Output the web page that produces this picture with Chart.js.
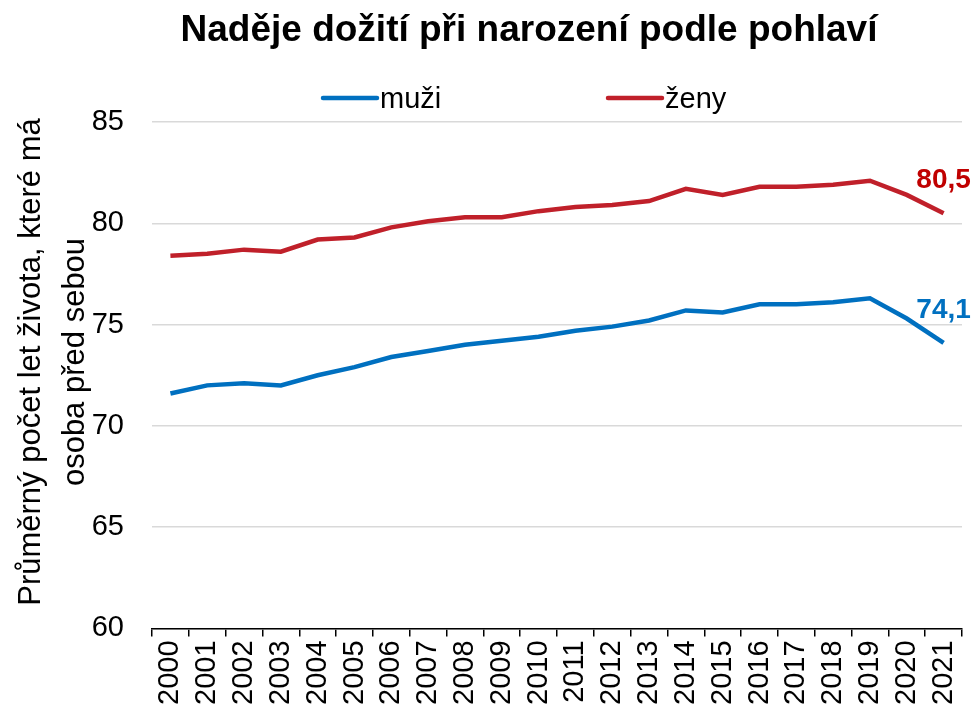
<!DOCTYPE html>
<html>
<head>
<meta charset="utf-8">
<script src="https://cdn.jsdelivr.net/npm/chart.js@4/dist/chart.umd.min.js"></script>
<style>
  html, body { margin: 0; padding: 0; background: #fff; }
  #wrap { width: 973px; height: 715px; }
</style>
</head>
<body>
<div id="wrap"><canvas id="lifeChart"></canvas></div>
<script>
/*global Chart*/

//----------------------------------------------------------------
/* data */
//----------------------------------------------------------------
var years = ["2000", "2001", "2002", "2003", "2004", "2005", "2006", "2007", "2008", "2009", "2010",
             "2011", "2012", "2013", "2014", "2015", "2016", "2017", "2018", "2019", "2020", "2021"];
var muzi = [71.6, 72.0, 72.1, 72.0, 72.5, 72.9, 73.4, 73.7, 74.0, 74.2, 74.4,
            74.7, 74.9, 75.2, 75.7, 75.6, 76.0, 76.0, 76.1, 76.3, 75.3, 74.1];
var zeny = [78.4, 78.5, 78.7, 78.6, 79.2, 79.3, 79.8, 80.1, 80.3, 80.3, 80.6,
            80.8, 80.9, 81.1, 81.7, 81.4, 81.8, 81.8, 81.9, 82.1, 81.4, 80.5];
var seriesNames = ["muži", "ženy"];
var yTicks = [60, 65, 70, 75, 80, 85];

var chartTitle = "Naděje dožití při narození podle pohlaví";
var yTitle = ["Průměrný počet let života, které má", "osoba před sebou"];

var blue = "#0070C0";
var red = "#C0202A";
var font = "'Liberation Sans', Arial, sans-serif";

//----------------------------------------------------------------
/* title, axis title, legend and end labels */
//----------------------------------------------------------------
var extrasPlugin = {
    id: "extras",
    afterDraw: function (chart) {
        var ctx = chart.ctx;
        ctx.save();
        // title
        ctx.fillStyle = "#000";
        ctx.font = "bold 37px " + font;
        ctx.textAlign = "center";
        ctx.textBaseline = "middle";
        ctx.fillText(chartTitle, 529, 31);

        // y axis title (two lines, rotated)
        ctx.save();
        ctx.font = "31px " + font;
        ctx.translate(31, 362);
        ctx.rotate(-Math.PI / 2);
        yTitle.forEach(function (line, i) {
            ctx.fillText(line, 0, i * 44);
        });
        ctx.restore();

        // legend
        ctx.font = "29px " + font;
        ctx.textAlign = "left";
        var items = [{x: 323, c: blue}, {x: 608, c: red}];
        items.forEach(function (it, i) {
            ctx.strokeStyle = it.c;
            ctx.lineWidth = 4.5;
            ctx.lineCap = "round";
            ctx.beginPath();
            ctx.moveTo(it.x, 98);
            ctx.lineTo(it.x + 54, 98);
            ctx.stroke();
            ctx.fillStyle = "#000";
            ctx.fillText(seriesNames[i], it.x + 57, 100);
        });

        // value labels on last points
        ctx.font = "bold 28px " + font;
        ctx.textAlign = "center";
        chart.data.datasets.forEach(function (ds, i) {
            var meta = chart.getDatasetMeta(i);
            var last = meta.data[meta.data.length - 1];
            ctx.fillStyle = ds.labelColor;
            ctx.fillText(ds.data[ds.data.length - 1].toFixed(1).replace(".", ","), last.x, last.y - 33);
        });
        ctx.restore();
    }
};

//----------------------------------------------------------------
/* chart */
//----------------------------------------------------------------
var lineData = {
    labels: years,
    datasets: [
        {
            label: seriesNames[0],
            data: muzi,
            borderColor: blue,
            backgroundColor: blue,
            labelColor: "#0070C0",
            borderWidth: 4.5,
            pointRadius: 0,
            tension: 0,
            fill: false
        },
        {
            label: seriesNames[1],
            data: zeny,
            borderColor: red,
            backgroundColor: red,
            labelColor: "#C00000",
            borderWidth: 4.5,
            pointRadius: 0,
            tension: 0,
            fill: false
        }
    ]
};

var lineOptions = {
    responsive: false,
    animation: false,
    layout: { autoPadding: false, padding: { top: 122, right: 11, bottom: 6, left: 12 } },
    plugins: {
        legend: { display: false },
        title: { display: false },
        tooltip: { enabled: false }
    },
    scales: {
        x: {
            offset: true,
            afterFit: function (axis) {
                axis.paddingLeft = 0;
                axis.paddingRight = 0;
            },
            grid: {
                offset: true,
                drawOnChartArea: false,
                drawTicks: true,
                tickLength: 8,
                color: "#000",
                lineWidth: 1.5
            },
            border: { color: "#000", width: 1.5 },
            ticks: {
                minRotation: 90,
                maxRotation: 90,
                autoSkip: false,
                color: "#000",
                padding: 4,
                font: { family: font, size: 29 }
            }
        },
        y: {
            min: 60,
            max: 85,
            afterBuildTicks: function (axis) {
                axis.ticks = yTicks.map(function (v) { return {value: v}; });
            },
            afterFit: function (axis) {
                axis.width = 140;
            },
            grid: {
                color: "#d9d9d9",
                lineWidth: 1.5,
                drawTicks: false
            },
            border: { display: false },
            ticks: {
                color: "#000",
                padding: 28,
                font: { family: font, size: 29 }
            }
        }
    }
};

var canvas = document.getElementById("lifeChart");
canvas.width = 973;
canvas.height = 715;
new Chart(canvas.getContext("2d"), {type: "line", data: lineData, options: lineOptions, plugins: [extrasPlugin]});
</script>
</body>
</html>
